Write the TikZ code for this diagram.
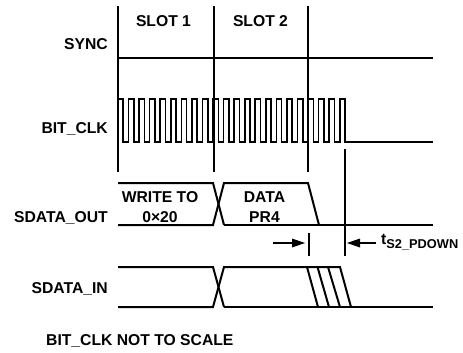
\documentclass[tikz,border=0pt]{standalone}
\usepackage{fontspec}
\setmainfont{Liberation Sans}[BoldFont={Liberation Sans Bold}]
\begin{document}
\begin{tikzpicture}[x=1pt,y=-1pt,
  lbl/.style={anchor=base east,inner sep=0pt,font=\fontsize{15.7}{18}\selectfont\bfseries},
  ctr/.style={anchor=base,inner sep=0pt,font=\fontsize{15.7}{18}\selectfont\bfseries},
  sig/.style={line width=2pt},
  slotline/.style={line width=2.2pt},
  thin/.style={line width=1.2pt},
  shaft/.style={line width=2pt},
  head/.style={fill=black,draw=none}]
\useasboundingbox (0,0) rectangle (463,353);
% labels
\node[lbl] (sync) at (108,49) {SYNC};
\node[lbl] (bclk) at (108,133) {BIT\_CLK};
\node[lbl] (sdo) at (108,222) {SDATA\_OUT};
\node[lbl] (sdi) at (108,293) {SDATA\_IN};
\node[ctr] (s1) at (163.5,27) {SLOT 1};
\node[ctr] (s2) at (260.5,27) {SLOT 2};
\node[ctr] (w1) at (160,202) {WRITE TO};
\node[ctr] (w2) at (160,222) {0×20};
\node[ctr] (d1) at (264.5,202) {DATA};
\node[ctr] (d2) at (264.5,222) {PR4};
\node[anchor=base west,inner sep=0pt,font=\fontsize{15.7}{18}\selectfont\bfseries] (note) at (46,345) {BIT\_CLK NOT TO SCALE};
\node[anchor=base west,inner sep=0pt,font=\fontsize{15.7}{18}\selectfont\bfseries] (tlab) at (381,244) {t\raisebox{-4pt}{\fontsize{12.8}{14}\selectfont\bfseries S2\_PDOWN}};
% slot lines
\draw[slotline] (118,6) -- (118,172);
\draw[slotline] (214,6) -- (214,172);
\draw[slotline] (308,6) -- (308,172);
% sync
\draw[sig] (118,58) -- (433,58);
% bit clock
\pgfmathsetmacro{\w}{227/43}
\draw[line width=1.6pt] (118,142) -- (118,99)
  \foreach \i in {1,...,21} { -- ++(\w,0) -- ++(0,43) -- ++(\w,0) -- ++(0,-43) }
  -- (345,99) -- (345,142) -- (433,142);
% SDATA_OUT
\draw[sig] (118,183) -- (213,183) -- (224,225);
\draw[sig] (118,225) -- (213,225) -- (224,183) -- (308,183) -- (319,225);
\draw[sig] (224,225) -- (433,225);
% SDATA_IN
\draw[sig] (118,267) -- (213,267) -- (224,307);
\draw[sig] (118,307) -- (213,307) -- (224,267) -- (340,267) -- (351,307);
\draw[sig] (224,307) -- (433,307);
\draw[sig] (307,267) -- (318,307);
\draw[sig] (317.5,267) -- (329,307);
\draw[sig] (328,267) -- (340,307);
% timing marks
\coordinate (tk1a) at (309,233);
\coordinate (tk1b) at (309,256);
\coordinate (tk2a) at (345,149);
\coordinate (tk2b) at (345,256);
\draw[thin] (tk1a) -- (tk1b);
\draw[thin] (tk2a) -- (tk2b);
\coordinate (a1s) at (273,243);
\coordinate (a1e) at (305,243);
\coordinate (a2s) at (376,243);
\coordinate (a2e) at (347,243);
\draw[shaft] (a1s) -- (292,243);
\fill[head] (a1e) -- (292,238.5) -- (292,247.5) -- cycle;
\draw[shaft] (a2s) -- (360,243);
\fill[head] (a2e) -- (360,238.5) -- (360,247.5) -- cycle;
\end{tikzpicture}
\end{document}
